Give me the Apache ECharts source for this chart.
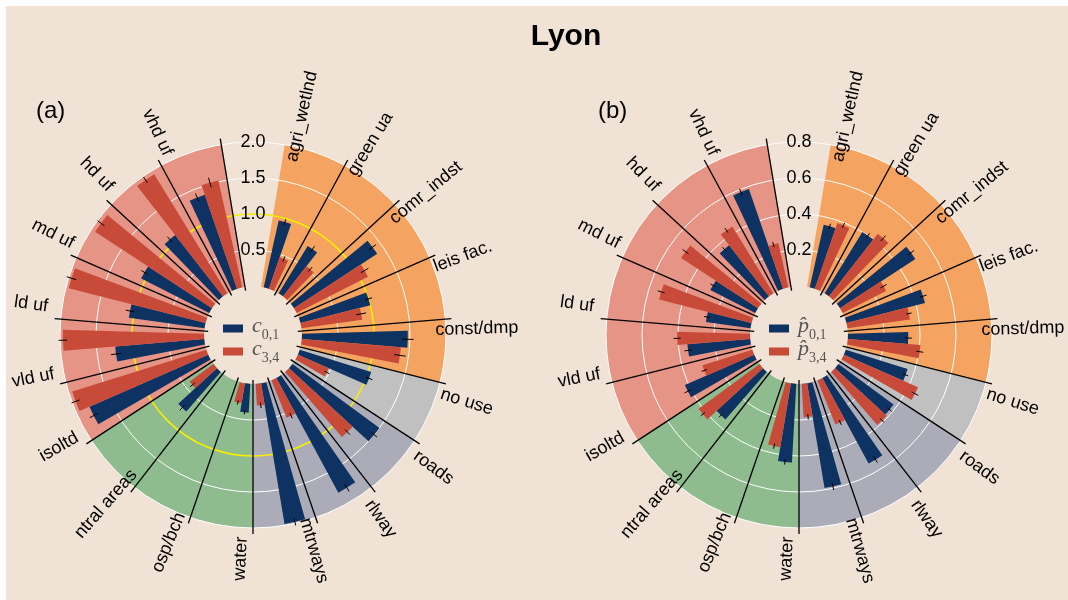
<!DOCTYPE html>
<html><head><meta charset="utf-8">
<script src="https://cdn.jsdelivr.net/npm/echarts@6/dist/echarts.min.js"></script>
<style>html,body{margin:0;padding:0;background:#fff;}#c{width:1068px;height:600px;}</style>
</head><body><div id="c"></div>
<script>
// ---------------- data ----------------
const categories = ['agri_wetlnd','green ua','comr_indst','leis fac.','const/dmp','no use','roads','rlway','mtrways','water','osp/bch','ntral areas','isoltd','vld uf','ld uf','md uf','hd uf','vhd uf'];
const categoryGroups = ['agri','agri','agri','agri','agri','nouse','transp','transp','transp','green','green','green','urban','urban','urban','urban','urban','urban'];

// panel (a)
const c01 = [0.95,0.77,1.38,1.00,1.47,1.04,1.50,1.81,1.98,0.40,0,0.73,1.80,1.24,1.06,1.06,1.08,1.38];
const c34 = [0.46,0.53,1.11,0.85,1.38,0.47,1.20,0.56,0.30,0.28,0,0.41,1.95,1.96,1.96,1.94,1.94,1.52];
const c01err = [0.04,0.05,0.06,0.05,0.08,0.05,0.05,0.06,0.05,0.03,0,0.05,0.06,0.07,0.06,0.05,0.05,0.06];
const c34err = [0.04,0.04,0.06,0.07,0.08,0.04,0.05,0.04,0.04,0.03,0,0.04,0.06,0.06,0.07,0.06,0.05,0.07];
const ticksA = [0.5,1.0,1.5,2.0];
const yellowRingA = 1.0;

// panel (b)
const p01 = [0.355,0.40,0.50,0.45,0.335,0.36,0.38,0.54,0.59,0.437,0,0.35,0.42,0.35,0.25,0.28,0.36,0.585];
const p34 = [0.385,0.44,0.27,0.35,0.405,0.45,0.39,0.265,0.185,0.36,0,0.42,0.29,0.405,0.53,0.51,0.435,0.25];
const p01err = [0.015,0.015,0.02,0.02,0.02,0.015,0.015,0.02,0.02,0.015,0,0.015,0.02,0.02,0.015,0.015,0.015,0.02];
const p34err = [0.015,0.02,0.02,0.015,0.02,0.02,0.015,0.015,0.015,0.015,0,0.015,0.015,0.02,0.02,0.02,0.015,0.015];
const ticksB = [0.2,0.4,0.6,0.8];

// ---------------- style ----------------
const BEIGE = '#f0e2d4';
const BLUE = '#0e3262', RED = '#c84b3a';
const groupColors = {agri:'#f4a460', nouse:'#c0c0c0', transp:'#abacb8', green:'#8fbc8f', urban:'#e59485'};
const SANS = 'Liberation Sans';
const SERIF = 'Liberation Serif';

const NSLOT = categories.length + 1;          // one empty slot at the top
const angleCats = categories.concat(['']);
const slotRad = 2 * Math.PI / NSLOT;
const START = 90 - 180 / NSLOT;

const chart = echarts.init(document.getElementById('c'), null, {renderer:'canvas', width:1068, height:600});

const polar = [], angleAxis = [], radiusAxis = [], series = [], legend = [];

function panel(k, center, ticks, s1, s2, e1, e2, n1, n2, ring) {
  const maxV = ticks[ticks.length - 1];
  const step = ticks[0];
  const base = k * 3;
  for (let i = 0; i < 3; i++) polar.push({center: center, radius: [49, 193]});
  // background polar
  angleAxis.push({polarIndex: base, type:'category', data: angleCats, startAngle: START, clockwise: true, show: false});
  radiusAxis.push({polarIndex: base, type:'value', min:0, max:maxV, show:false});
  // grid polar (radial labels on the vertical)
  angleAxis.push({polarIndex: base+1, type:'value', min:0, max:360, startAngle: 90, show:false});
  const splitColors = ['rgba(0,0,0,0)'].concat(ticks.map(t => (ring !== null && Math.abs(t - ring) < 1e-9) ? 'rgba(0,0,0,0)' : '#ffffff'));
  radiusAxis.push({polarIndex: base+1, type:'value', min:0, max:maxV, interval: step, z: 2,
    axisLine:{show:false}, axisTick:{show:false},
    axisLabel:{show:true, margin:0, align:'center', verticalAlign:'middle', fontSize:18, fontFamily:SANS, color:'#000',
      formatter: v => (v === 0 ? '' : v.toFixed(1))},
    splitLine:{show:true, lineStyle:{color: splitColors, width:1}}});
  // data polar
  angleAxis.push({polarIndex: base+2, type:'category', data: angleCats, startAngle: START, clockwise: true, show: false});
  radiusAxis.push({polarIndex: base+2, type:'value', min:0, max:maxV, show:false});

  series.push({type:'bar', coordinateSystem:'polar', polarIndex: base, silent:true, z:1,
    barCategoryGap:'0%',
    data: categories.map((c, i) => ({value: maxV, itemStyle:{color: groupColors[categoryGroups[i]]}})).concat(['-'])});

  if (ring !== null) {
    series.push({type:'custom', coordinateSystem:'polar', polarIndex: base+2, z:2, silent:true,
      data: [[ring, 0]],
      renderItem: function (params, api) {
        const cs = params.coordSys;
        const p = api.coord([api.value(0), api.value(1)]);
        const r = Math.hypot(p[0]-cs.cx, p[1]-cs.cy);
        return {type:'circle', shape:{cx:cs.cx, cy:cs.cy, r:r}, style:{fill:'none', stroke:'#f7ef00', lineWidth:1.6}};
      }});
  }

  series.push({name:n1, type:'bar', coordinateSystem:'polar', polarIndex: base+2, z:3,
    barGap:'0%', barCategoryGap:'33.33%', itemStyle:{color:BLUE}, data: s1.concat(['-'])});
  series.push({name:n2, type:'bar', coordinateSystem:'polar', polarIndex: base+2, z:3,
    barGap:'0%', barCategoryGap:'33.33%', itemStyle:{color:RED}, data: s2.concat(['-'])});

  // error bars
  const errData = [];
  s1.forEach((v, i) => { if (e1[i] > 0) errData.push([v, i, e1[i], -1]); });
  s2.forEach((v, i) => { if (e2[i] > 0) errData.push([v, i, e2[i], 1]); });
  series.push({type:'custom', coordinateSystem:'polar', polarIndex: base+2, z:4, silent:true,
    data: errData,
    renderItem: function (params, api) {
      const cs = params.coordSys;
      const v = api.value(0), j = api.value(1), e = api.value(2), side = api.value(3);
      const p = api.coord([v, j]);
      const psi = Math.atan2(p[1]-cs.cy, p[0]-cs.cx) + side * slotRad / 6;
      const a = api.coord([v - e, j]), b = api.coord([v + e, j]);
      const r1 = Math.hypot(a[0]-cs.cx, a[1]-cs.cy), r2 = Math.hypot(b[0]-cs.cx, b[1]-cs.cy);
      return {type:'line', shape:{x1: cs.cx + r1*Math.cos(psi), y1: cs.cy + r1*Math.sin(psi),
        x2: cs.cx + r2*Math.cos(psi), y2: cs.cy + r2*Math.sin(psi)},
        style:{stroke:'#000', lineWidth:1}};
    }});

  // divider lines and category labels
  series.push({type:'custom', coordinateSystem:'polar', polarIndex: base+2, z:5, silent:true,
    data: categories.map((c, i) => [maxV, i]),
    renderItem: function (params, api) {
      const cs = params.coordSys;
      const j = api.value(1);
      const p = api.coord([api.value(0), j]);
      const psi = Math.atan2(p[1]-cs.cy, p[0]-cs.cx);
      const pe = psi + slotRad / 2;
      const rIn = cs.r0 - 4, rOut = cs.r + 6;
      let pl = psi - slotRad / 3;
      while (pl < -Math.PI/2) pl += 2*Math.PI;
      while (pl >= 1.5*Math.PI) pl -= 2*Math.PI;
      const rl = cs.r + 31;
      const rot = pl < Math.PI/2 ? -pl : Math.PI - pl;
      return {type:'group', children:[
        {type:'line', shape:{x1: cs.cx + rIn*Math.cos(pe), y1: cs.cy + rIn*Math.sin(pe),
          x2: cs.cx + rOut*Math.cos(pe), y2: cs.cy + rOut*Math.sin(pe)},
          style:{stroke:'#000', lineWidth:1.3}},
        {type:'text', x: cs.cx + rl*Math.cos(pl), y: cs.cy + rl*Math.sin(pl), rotation: rot,
          style:{text: categories[j], fill:'#000', fontSize:18, fontFamily:SANS, align:'center', verticalAlign:'middle'}}
      ]};
    }});

  const sub = {'c01':'0,1','c34':'3,4','p01':'0,1','p34':'3,4'};
  const sym = {'c01':'c','c34':'c','p01':'p\u0302','p34':'p\u0302'};
  legend.push({data:[n1, n2], orient:'vertical', left: center[0]-35, top: 310, itemWidth:20, itemHeight:8, itemGap:-4,
    icon:'rect', selectedMode:false,
    formatter: name => '{i|' + sym[name] + '}{s|' + sub[name] + '}',
    textStyle:{color:'#555', rich:{
      i:{fontFamily:SERIF, fontStyle:'italic', fontSize:22, lineHeight:27, verticalAlign:'top', color:'#555', padding:[0,0,0,4]},
      s:{fontFamily:SERIF, fontSize:14, lineHeight:27, verticalAlign:'bottom', color:'#555'}
    }}});
}

panel(0, [253, 335], ticksA, c01, c34, c01err, c34err, 'c01', 'c34', yellowRingA);
panel(1, [799, 335], ticksB, p01, p34, p01err, p34err, 'p01', 'p34', null);

chart.setOption({
  animation:false,
  backgroundColor:'#ffffff',
  title:{text:'Lyon', left:561, top:17, textAlign:'center',
    textStyle:{fontSize:30, fontWeight:'bold', fontFamily:SANS, color:'#000'}},
  graphic:[
    {type:'rect', left:6, top:6, z:-100, silent:true, shape:{width:1062, height:594}, style:{fill:BEIGE}},
    {type:'text', left:36, top:99, silent:true, style:{text:'(a)', fontSize:24, fontFamily:SANS, fill:'#000'}},
    {type:'text', left:598, top:99, silent:true, style:{text:'(b)', fontSize:24, fontFamily:SANS, fill:'#000'}}
  ],
  polar: polar, angleAxis: angleAxis, radiusAxis: radiusAxis, legend: legend, series: series
});
</script></body></html>
